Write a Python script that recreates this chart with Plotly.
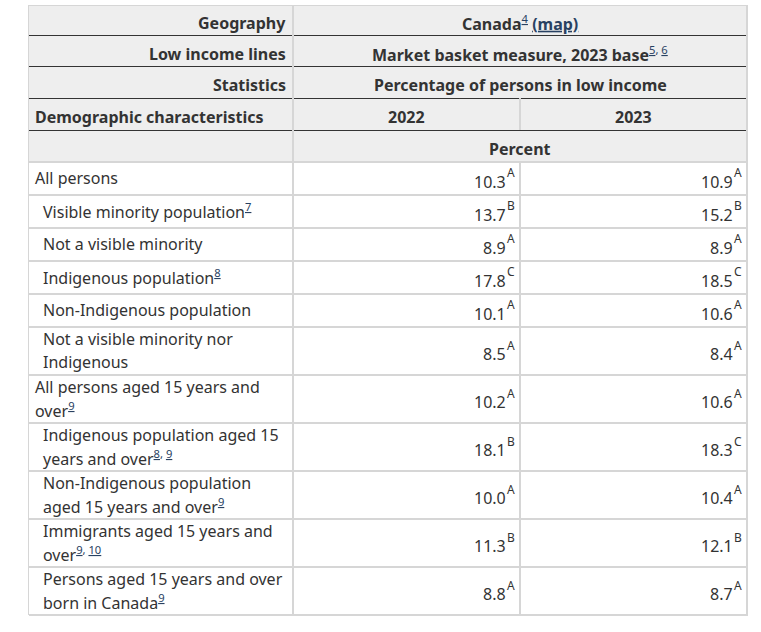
import plotly.graph_objects as go

# table content
geography = "Canada"
geography_note = "4"
income_line = "Market basket measure, 2023 base"
income_line_notes = "5, 6"
statistic = "Percentage of persons in low income"
unit = "Percent"
years = ["2022", "2023"]

characteristics = [
    "All persons",
    "Visible minority population",
    "Not a visible minority",
    "Indigenous population",
    "Non-Indigenous population",
    "Not a visible minority nor<br>Indigenous",
    "All persons aged 15 years and<br>over",
    "Indigenous population aged 15<br>years and over",
    "Non-Indigenous population<br>aged 15 years and over",
    "Immigrants aged 15 years and<br>over",
    "Persons aged 15 years and over<br>born in Canada",
]
footnotes = ["", "7", "", "8", "", "", "9", "8, 9", "9", "9, 10", "9"]
indented = [0, 1, 1, 1, 1, 1, 0, 1, 1, 1, 1]

values_2022 = [10.3, 13.7, 8.9, 17.8, 10.1, 8.5, 10.2, 18.1, 10.0, 11.3, 8.8]
quality_2022 = ["A", "B", "A", "C", "A", "A", "A", "B", "A", "B", "A"]
values_2023 = [10.9, 15.2, 8.9, 18.5, 10.6, 8.4, 10.6, 18.3, 10.4, 12.1, 8.7]
quality_2023 = ["A", "B", "A", "C", "A", "A", "A", "C", "A", "B", "A"]

# layout of the table (pixels)
W, H = 761, 632
LEFT, SPLIT, MID, RIGHT = 29, 293, 520, 747
TOP = 5
header_heights = [30, 31, 32, 32, 32]
ROW_1, ROW_2, LINE_H = 33, 48, 23
PAD = 5
INK = "#333333"
LINK = "#284162"
GRID = "#d6d6d6"
HEAD_BG = "#eeeeee"
FONT = "Noto Sans"

shapes = []
annotations = []


def hline(y, x0, x1, color, width):
    shapes.append(dict(type="line", xref="x", yref="y", x0=x0, x1=x1, y0=y, y1=y,
                       line=dict(color=color, width=width)))


def vline(x, y0, y1, color, width):
    shapes.append(dict(type="line", xref="x", yref="y", x0=x, x1=x, y0=y0, y1=y1,
                       line=dict(color=color, width=width)))


def text(x, y, s, anchor="left", size=16):
    annotations.append(dict(x=x, y=y, xref="x", yref="y", text=s, showarrow=False,
                            xanchor=anchor, yanchor="middle",
                            font=dict(family=FONT, size=size, color=INK)))


def note(refs):
    if not refs:
        return ""
    parts = ["<u>%s</u>" % r for r in refs.split(", ")]
    return "<span style='color:%s;font-weight:normal'><sup>%s</sup></span>" % (LINK, ", ".join(parts))


def value(x_right, y, v, q):
    # number right-aligned, quality letter as a raised superscript after it
    text(x_right - 12, y, "%.1f" % v, "right")
    text(x_right - 15, y - 9, q, "left", size=12)


# header rows
edges = [TOP]
for h in header_heights:
    edges.append(edges[-1] + h)
head_bottom = edges[-1]
shapes.append(dict(type="rect", xref="x", yref="y", x0=LEFT, x1=RIGHT, y0=TOP, y1=head_bottom,
                   fillcolor=HEAD_BG, line=dict(width=0), layer="below"))

mids = [(edges[i] + edges[i + 1]) / 2 + 3 for i in range(len(header_heights))]
centre = (SPLIT + RIGHT) / 2
text(SPLIT - PAD, mids[0], "<b>Geography</b>", "right")
text(centre, mids[0], "<b>%s%s <span style='color:%s'><u>(map)</u></span></b>"
     % (geography, note(geography_note), LINK), "center")
text(SPLIT - PAD, mids[1], "<b>Low income lines</b>", "right")
text(centre, mids[1], "<b>%s%s</b>" % (income_line, note(income_line_notes)), "center")
text(SPLIT - PAD, mids[2], "<b>Statistics</b>", "right")
text(centre, mids[2], "<b>%s</b>" % statistic, "center")
text(LEFT + 4, mids[3], "<b>Demographic characteristics</b>", "left")
text((SPLIT + MID) / 2, mids[3], "<b>%s</b>" % years[0], "center")
text((MID + RIGHT) / 2, mids[3], "<b>%s</b>" % years[1], "center")
text(centre, mids[4], "<b>%s</b>" % unit, "center")

# data rows
y = head_bottom
row_edges = [y]
for i, label in enumerate(characteristics):
    lines = label.split("<br>")
    h = ROW_1 if len(lines) == 1 else ROW_2
    mid = y + h / 2
    x = LEFT + 4 + 8 * indented[i]
    lines[-1] += note(footnotes[i])
    first = mid - 0.5 - LINE_H * (len(lines) - 1) / 2
    for k, ln in enumerate(lines):
        text(x, first + k * LINE_H, ln, "left")
    value(MID, mid + 3.3, values_2022[i], quality_2022[i])
    value(RIGHT, mid + 3.3, values_2023[i], quality_2023[i])
    y += h
    row_edges.append(y)

# grid lines
for e in edges[1:-1]:
    hline(e + 0.5, LEFT, RIGHT, INK, 1)
for e in row_edges:
    hline(e, LEFT, RIGHT, GRID, 2)
hline(TOP + 0.5, LEFT, RIGHT, GRID, 1)
vline(LEFT - 0.5, TOP, row_edges[-1], GRID, 1)
vline(RIGHT, TOP, row_edges[-1] + 1, GRID, 2)
vline(SPLIT, TOP, row_edges[-1], GRID, 2)
vline(MID, edges[3], edges[4], GRID, 2)
vline(MID, head_bottom, row_edges[-1], GRID, 2)

fig = go.Figure()
fig.update_layout(
    width=W, height=H, autosize=False,
    margin=dict(l=0, r=0, t=0, b=0),
    paper_bgcolor="white", plot_bgcolor="white",
    xaxis=dict(range=[0, W], visible=False, fixedrange=True),
    yaxis=dict(range=[H, 0], visible=False, fixedrange=True),
    shapes=shapes, annotations=annotations,
    showlegend=False,
)
fig.write_html("out.html", config={"displayModeBar": False},
               post_script="document.body.style.margin='0px';")
